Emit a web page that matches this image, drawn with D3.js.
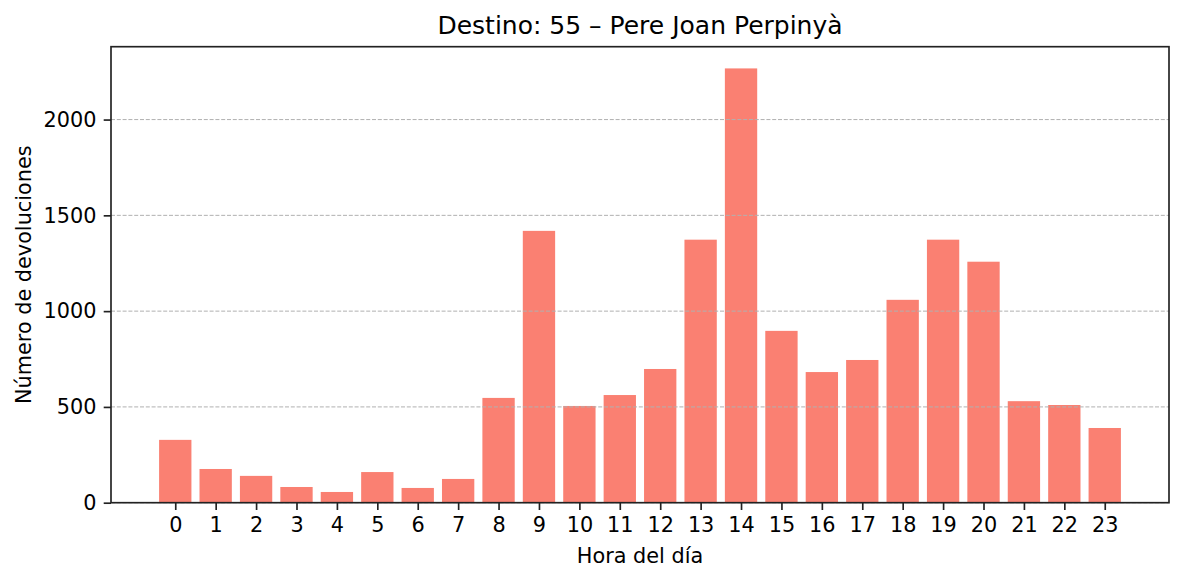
<!DOCTYPE html>
<html>
<head>
<meta charset="utf-8">
<script src="https://cdn.jsdelivr.net/npm/d3@7"></script>
<style>
  body { margin: 0; background: white; }
  svg { display: block; font-family: "DejaVu Sans", sans-serif; }
</style>
</head>
<body>
<svg id="chart"></svg>
<script>
const hours = d3.range(0, 24);
const devoluciones = [328, 176, 140, 82, 56, 160, 77, 124, 547, 1419, 505, 562,
                      698, 1373, 2267, 897, 682, 745, 1059, 1373, 1258, 530, 510, 390];
const yTicks = [0, 500, 1000, 1500, 2000];
const title = "Destino: 55 – Pere Joan Perpinyà";
const xLabel = "Hora del día";
const yLabel = "Número de devoluciones";

const width = 1184, height = 581;
const margin = {top: 46.7, right: 15, bottom: 78.3, left: 111};
const barWidth = 0.8;

const svg = d3.select("#chart")
  .attr("width", width)
  .attr("height", height)
  .attr("viewBox", [0, 0, width, height]);

// matplotlib style x-limits: bar extents plus 5% margin
const lo = -barWidth / 2, hi = hours.length - 1 + barWidth / 2;
const pad = (hi - lo) * 0.05;
const x = d3.scaleLinear()
  .domain([lo - pad, hi + pad])
  .range([margin.left, width - margin.right]);

const y = d3.scaleLinear()
  .domain([0, d3.max(devoluciones) * 1.05])
  .range([height - margin.bottom, margin.top]);

const chart = svg.append("g");

// bars
chart.append("g")
  .selectAll("rect")
  .data(hours)
  .join("rect")
  .attr("x", d => x(d - barWidth / 2))
  .attr("width", x(barWidth) - x(0))
  .attr("y", d => y(devoluciones[d]))
  .attr("height", d => y(0) - y(devoluciones[d]))
  .attr("fill", "#fa8072");

// horizontal grid
chart.append("g")
  .selectAll("line")
  .data(yTicks)
  .join("line")
  .attr("x1", x.range()[0])
  .attr("x2", x.range()[1])
  .attr("y1", d => y(d))
  .attr("y2", d => y(d))
  .attr("stroke", "#b0b0b0")
  .attr("stroke-width", 1)
  .attr("stroke-dasharray", "4,1.8");

// axes
const xAxis = d3.axisBottom(x)
  .tickValues(hours)
  .tickFormat(d3.format("d"))
  .tickSize(7.3)
  .tickPadding(7.3);
const yAxis = d3.axisLeft(y)
  .tickValues(yTicks)
  .tickFormat(d3.format("d"))
  .tickSize(7.3)
  .tickPadding(7.3);

const gx = chart.append("g")
  .attr("transform", `translate(0,${y(0)})`)
  .call(xAxis);
const gy = chart.append("g")
  .attr("transform", `translate(${margin.left},0)`)
  .call(yAxis);

[gx, gy].forEach(g => {
  g.select(".domain").remove();
  g.selectAll(".tick line").attr("stroke", "#222").attr("stroke-width", 1.67);
  g.selectAll(".tick text")
    .attr("fill", "#000")
    .style("font-size", "20.8px")
    .style("font-family", "DejaVu Sans");
});

// frame
chart.append("rect")
  .attr("x", x.range()[0])
  .attr("y", y.range()[1])
  .attr("width", x.range()[1] - x.range()[0])
  .attr("height", y.range()[0] - y.range()[1])
  .attr("fill", "none")
  .attr("stroke", "#222")
  .attr("stroke-width", 1.67);

// title & labels
svg.append("text")
  .attr("x", (x.range()[0] + x.range()[1]) / 2)
  .attr("y", 34.2)
  .attr("text-anchor", "middle")
  .style("font-size", "25px")
  .text(title);

svg.append("text")
  .attr("x", (x.range()[0] + x.range()[1]) / 2)
  .attr("y", 563)
  .attr("text-anchor", "middle")
  .style("font-size", "20.8px")
  .text(xLabel);

svg.append("text")
  .attr("transform", `translate(31,${(y.range()[0] + y.range()[1]) / 2}) rotate(-90)`)
  .attr("text-anchor", "middle")
  .style("font-size", "20.8px")
  .text(yLabel);
</script>
</body>
</html>
